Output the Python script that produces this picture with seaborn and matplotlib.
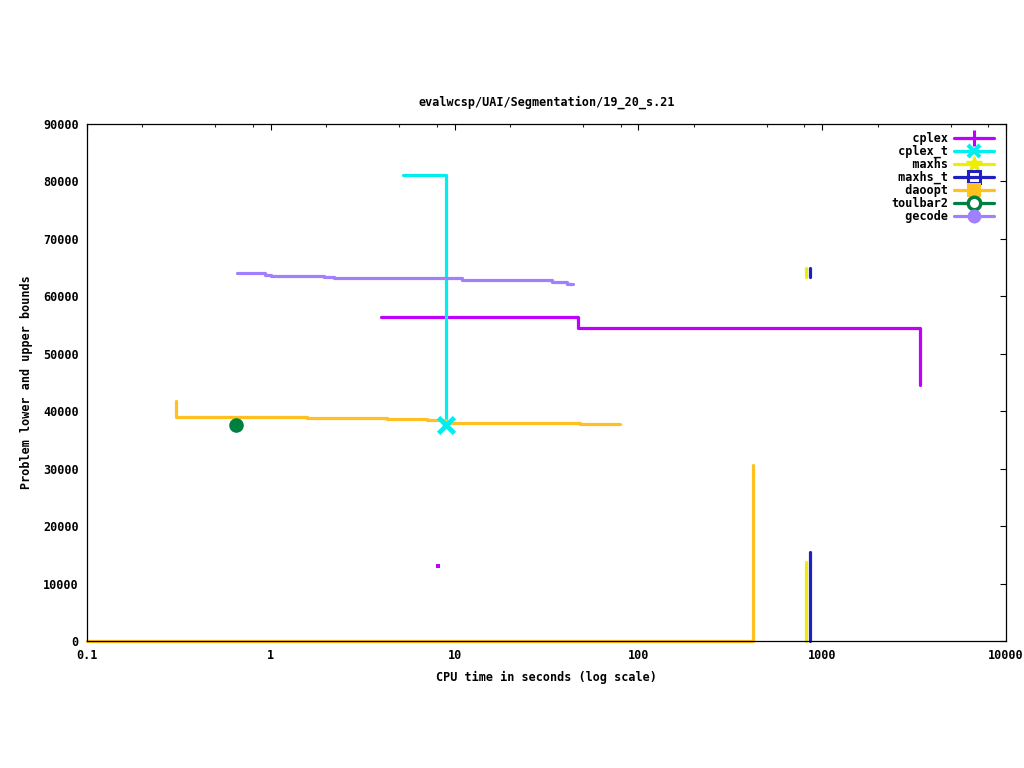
import pandas as pd
import matplotlib
matplotlib.use("Agg")
import matplotlib.pyplot as plt
import seaborn as sns
from matplotlib.lines import Line2D
from matplotlib.ticker import FixedLocator, FixedFormatter, NullFormatter

# solvers and colours (gnuplot-ish palette)
solvers = ["cplex", "cplex_t", "maxhs", "maxhs_t", "daoopt", "toulbar2", "gecode"]
colors = ["#c000ff", "#00eeee", "#eeee00", "#2020c0", "#ffc020", "#008040", "#a080ff"]

# cplex: upper bound steps + a lone point
cplex_ub_t = [4.0, 47, 3400, 3400]
cplex_ub = [56400, 54500, 54500, 44600]
cplex_pt_t = [8.1]
cplex_pt = [13000]

# cplex_t: upper bound then drop to optimum
cplex_t_ub_t = [5.24, 9.0, 9.0]
cplex_t_ub = [81100, 81100, 37600]
cplex_t_opt_t = [9.0]
cplex_t_opt = [37600]

# maxhs
maxhs_ub_t = [817, 817]
maxhs_ub = [64900, 63400]
maxhs_lb_t = [817, 817]
maxhs_lb = [0, 13750]

# maxhs_t
maxhs_t_ub_t = [859, 859]
maxhs_t_ub = [64900, 63400]
maxhs_t_lb_t = [859, 859]
maxhs_t_lb = [0, 15500]

# daoopt
daoopt_ub_t = [0.305, 0.305, 1.57, 4.29, 7.08, 9.0, 48.1, 79.4]
daoopt_ub = [41700, 39000, 38820, 38650, 38470, 37900, 37730, 37730]
daoopt_lb_t = [0.1, 419, 419]
daoopt_lb = [0, 0, 30600]

# toulbar2 (solved)
toulbar2_t = [0.647]
toulbar2_v = [37600]

# gecode
gecode_t = [0.655, 0.929, 1.0, 1.95, 2.21, 11.0, 33.9, 40.9, 44.1]
gecode_v = [64000, 63800, 63550, 63370, 63200, 62880, 62550, 62100, 62100]

xticks = [0.1, 1, 10, 100, 1000, 10000]
xtick_labels = ["0.1", "1", "10", "100", "1000", "10000"]
xminor = [m * 10.0 ** e for e in range(-1, 4) for m in (2, 5, 8)]
yticks = list(range(0, 90001, 10000))

FONT = "DejaVu Sans Mono"
FS = 8.5
LW = 2.3


def step_line(ax, t, v, color, clip=True):
    df = pd.DataFrame({"t": t, "v": v})
    sns.lineplot(data=df, x="t", y="v", ax=ax, color=color, estimator=None,
                 sort=False, drawstyle="steps-post", linewidth=LW, clip_on=clip)


def point(ax, t, v, color, **kw):
    df = pd.DataFrame({"t": t, "v": v})
    sns.scatterplot(data=df, x="t", y="v", ax=ax, color=color, zorder=3, **kw)


sns.set_style("white")
plt.rcParams["font.family"] = [FONT, "DejaVu Sans"]
plt.rcParams["font.weight"] = "bold"
plt.rcParams["text.color"] = "black"
plt.rcParams["axes.labelcolor"] = "black"
plt.rcParams["axes.labelweight"] = "bold"
plt.rcParams["axes.titleweight"] = "bold"

fig = plt.figure(figsize=(10.24, 7.68), dpi=100)
ax = fig.add_axes([87 / 1024, 1 - 641 / 768, (1006 - 87) / 1024, (641 - 124) / 768])

c = dict(zip(solvers, colors))
step_line(ax, cplex_ub_t, cplex_ub, c["cplex"])
point(ax, cplex_pt_t, cplex_pt, c["cplex"], marker="s", s=5, linewidth=0)
step_line(ax, cplex_t_ub_t, cplex_t_ub, c["cplex_t"])
point(ax, cplex_t_opt_t, cplex_t_opt, c["cplex_t"], marker="x", s=130, linewidth=3.4)
step_line(ax, maxhs_ub_t, maxhs_ub, c["maxhs"])
step_line(ax, maxhs_lb_t, maxhs_lb, c["maxhs"], clip=False)
step_line(ax, maxhs_t_ub_t, maxhs_t_ub, c["maxhs_t"])
step_line(ax, maxhs_t_lb_t, maxhs_t_lb, c["maxhs_t"], clip=False)
step_line(ax, daoopt_ub_t, daoopt_ub, c["daoopt"])
step_line(ax, daoopt_lb_t, daoopt_lb, c["daoopt"], clip=False)
point(ax, toulbar2_t, toulbar2_v, c["toulbar2"], marker="o", s=110, linewidth=0)
step_line(ax, gecode_t, gecode_v, c["gecode"])

ax.set_xscale("log")
ax.set_xlim(0.1, 10000)
ax.set_ylim(0, 90000)
ax.xaxis.set_major_locator(FixedLocator(xticks))
ax.xaxis.set_major_formatter(FixedFormatter(xtick_labels))
ax.xaxis.set_minor_locator(FixedLocator(xminor))
ax.xaxis.set_minor_formatter(NullFormatter())
ax.set_yticks(yticks)
ax.set_yticklabels([str(y) for y in yticks])
ax.tick_params(which="major", direction="in", length=4.5, width=0.8,
               top=True, right=True, labelsize=FS, pad=6, colors="black")
ax.tick_params(which="minor", direction="in", length=2.3, width=0.8,
               top=True, right=True)
for s in ax.spines.values():
    s.set_color("black")
    s.set_linewidth(0.9)
    s.set_zorder(5)

ax.set_xlabel("CPU time in seconds (log scale)", fontsize=FS, labelpad=6,
              fontweight="bold", color="black")
ax.set_ylabel("Problem lower and upper bounds", fontsize=FS, labelpad=7,
              fontweight="bold", color="black")
ax.set_title("evalwcsp/UAI/Segmentation/19_20_s.21", fontsize=FS, pad=13,
             fontweight="bold", color="black")

markers = [
    dict(marker="+", ms=11, mew=2.2),
    dict(marker="x", ms=9, mew=3),
    dict(marker="*", ms=12, mew=1),
    dict(marker="s", ms=8, mew=2.2, mfc="none"),
    dict(marker="s", ms=10, mew=0),
    dict(marker="o", ms=9, mew=2.5, mfc="white"),
    dict(marker="o", ms=10, mew=0),
]
handles = [Line2D([], [], color=col, lw=LW, **m) for col, m in zip(colors, markers)]
width = max(len(s) for s in solvers)
labels = [s.rjust(width) for s in solvers]
leg = ax.legend(handles, labels, loc="upper right", bbox_to_anchor=(0.987, 0.985),
                frameon=False, markerfirst=False,
                handlelength=3.4, labelspacing=0.0, handletextpad=0.5,
                borderaxespad=0.0, borderpad=0.0,
                prop={"family": FONT, "size": FS, "weight": "bold"})

fig.savefig("out.png", dpi=100, facecolor="white")
